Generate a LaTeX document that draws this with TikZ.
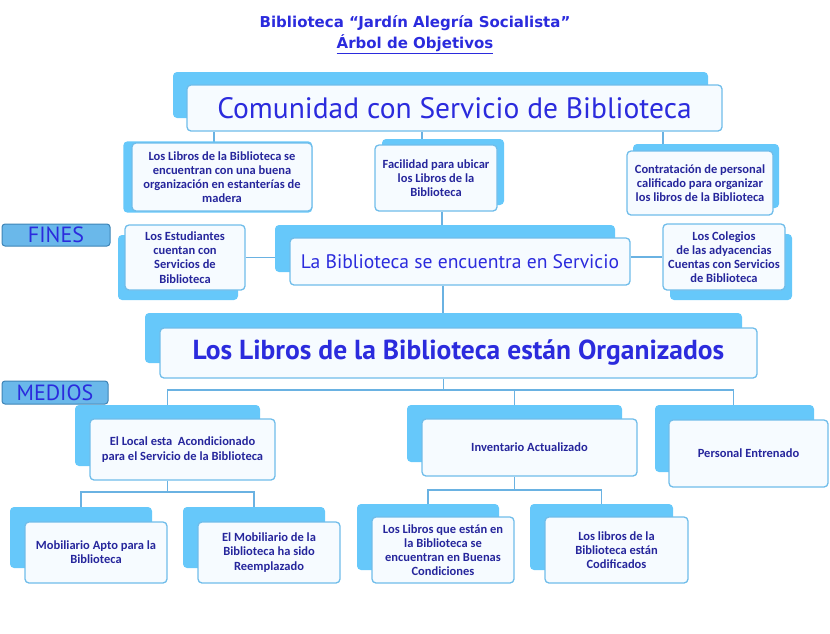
\documentclass[tikz,border=0pt]{standalone}
\usepackage{fontspec}
\setmainfont{Carlito}
\newfontfamily\headfont{PT Sans}
\newfontfamily\titlefont{DejaVu Sans}
\usetikzlibrary{shadows}

\definecolor{skyback}{HTML}{66C8FA}
\definecolor{frontline}{HTML}{70BDEA}
\definecolor{frontfill}{HTML}{F6FBFF}
\definecolor{navytext}{HTML}{26269C}
\definecolor{brighttext}{HTML}{2B2BDD}
\definecolor{linkblue}{HTML}{6AB2E2}
\definecolor{tagfill}{HTML}{6AB8EA}
\definecolor{tagline}{HTML}{3E84B6}

\pgfdeclarelayer{background}
\pgfsetlayers{background,main}

\tikzset{
  goal/.style={draw=frontline, line width=1.3pt, fill=frontfill, rounded corners=4pt,
    align=center, text=navytext, inner sep=2pt, font=\bfseries\fontsize{12.5}{14.2}\selectfont},
  lift/.style 2 args={general shadow={fill=skyback, shadow xshift=#1, shadow yshift=#2}},
  headline/.style={text=brighttext, font=\headfont\fontsize{#1}{#1}\selectfont},
  tag/.style={draw=tagline, line width=1pt, fill=tagfill, rounded corners=3pt,
    text=brighttext, font=\headfont\fontsize{22}{22}\selectfont, inner sep=0pt},
  link/.style={draw=linkblue, line width=1.6pt}
}

\begin{document}
\begin{tikzpicture}[x=1pt, y=-1pt]
  \useasboundingbox (0,0) rectangle (830,633);

  % Draw title
  \node[align=center, text=brighttext, font=\titlefont\bfseries\fontsize{15}{21}\selectfont] (title) at (415,35)
    {Biblioteca “Jardín Alegría Socialista”\\ \underline{Árbol de Objetivos}};

  % Draw ends (fines)
  \node[goal, lift={-14pt}{13pt}, minimum width=535pt, minimum height=46pt, headline=29.5] (top) at (454.5,108)
    {Comunidad con Servicio de Biblioteca};
  \node[goal, general shadow={fill=skyback, shadow scale=1.05, shadow xshift=-4pt, shadow yshift=0pt},
    minimum width=180pt, minimum height=68pt] (l1) at (222,177)
    {Los Libros de la Biblioteca se\\ encuentran con una buena\\ organización en estanterías de\\ madera};
  \node[goal, lift={7pt}{6pt}, minimum width=122pt, minimum height=66pt] (m1) at (436,178)
    {Facilidad para ubicar\\ los Libros de la\\ Biblioteca};
  \node[goal, lift={6pt}{7pt}, minimum width=146pt, minimum height=64pt] (r1) at (700,183)
    {Contratación de personal\\ calificado para organizar\\ los libros de la Biblioteca};

  \node[tag, minimum width=108pt, minimum height=22pt] (fines) at (56,235) {FINES};
  \node[goal, lift={-7pt}{-10pt}, minimum width=120pt, minimum height=65pt] (le) at (185,257.5)
    {Los Estudiantes\\ cuentan con\\ Servicios de\\ Biblioteca};
  \node[goal, lift={-15pt}{13pt}, minimum width=340pt, minimum height=47pt, headline=19.6] (mid) at (460,261.5)
    {La Biblioteca se encuentra\ en Servicio};
  \node[goal, lift={7pt}{-10pt}, minimum width=122pt, minimum height=66pt] (lc) at (724,257)
    {Los Colegios\\ de las adyacencias\\ Cuentas con Servicios\\ de Biblioteca};

  % Draw central problem
  \node[goal, lift={-15pt}{15pt}, minimum width=597pt, minimum height=50pt,
    font=\headfont\bfseries\fontsize{27.5}{27.5}\selectfont, text=brighttext] (big) at (458.5,353)
    {Los Libros de la Biblioteca están Organizados};

  % Draw means (medios)
  \node[tag, minimum width=106pt, minimum height=23pt] (medios) at (55,392.5) {MEDIOS};
  \node[goal, lift={-15pt}{14pt}, minimum width=185pt, minimum height=61pt] (el) at (182.5,449.5)
    {El Local esta\ \ Acondicionado\\ para el Servicio de la Biblioteca};
  \node[goal, lift={-15pt}{14pt}, minimum width=215pt, minimum height=57pt] (inv) at (529.5,447.5)
    {Inventario Actualizado};
  \node[goal, lift={-14pt}{15pt}, minimum width=159pt, minimum height=67pt] (per) at (748.5,453.5)
    {Personal Entrenado};

  \node[goal, lift={-15pt}{15pt}, minimum width=142pt, minimum height=61pt] (ma) at (96,552.5)
    {Mobiliario Apto para la\\ Biblioteca};
  \node[goal, lift={-15pt}{15pt}, minimum width=142pt, minimum height=61pt] (er) at (269,552.5)
    {El Mobiliario de la\\ Biblioteca ha sido\\ Reemplazado};
  \node[goal, lift={-15pt}{13pt}, minimum width=142pt, minimum height=66pt] (lq) at (443,550)
    {Los Libros que están en\\ la Biblioteca se\\ encuentran en Buenas\\ Condiciones};
  \node[goal, lift={-15pt}{13pt}, minimum width=143pt, minimum height=66pt] (lcod) at (616.5,550)
    {Los libros de la\\ Biblioteca están\\ Codificados};

  % Draw connectors behind the boxes
  \coordinate (medbus) at (0,390);
  \coordinate (elbus) at (0,492);
  \coordinate (invbus) at (0,490);
  \begin{pgfonlayer}{background}
    \draw[link] ([xshift=-8pt]l1.north) -- ([xshift=-8pt]l1.north |- top.south);
    \draw[link] ([xshift=-14pt]m1.north) -- ([xshift=-14pt]m1.north |- top.south);
    \draw[link] ([xshift=-37pt]r1.north) -- ([xshift=-37pt]r1.north |- top.south);
    \draw[link] ([xshift=6pt]m1.south) -- ([xshift=6pt]m1.south |- mid.north);
    \draw[link] (le.east) -- (le.east -| mid.west);
    \draw[link] (lc.west) -- (lc.west -| mid.east);
    \draw[link] ([xshift=-17pt]mid.south) -- ([xshift=-17pt]mid.south |- big.north);

    \draw[link] ([xshift=-15pt]big.south) -- ([xshift=-15pt]big.south |- medbus);
    \draw[link] ([xshift=-15pt]el.north) |- ([xshift=-15pt]per.north |- medbus) -- ([xshift=-15pt]per.north);
    \draw[link] ([xshift=-15pt]inv.north) -- ([xshift=-15pt]inv.north |- medbus);

    \draw[link] ([xshift=-15pt]el.south) -- ([xshift=-15pt]el.south |- elbus);
    \draw[link] ([xshift=-15pt]ma.north) |- ([xshift=-15pt]er.north |- elbus) -- ([xshift=-15pt]er.north);
    \draw[link] ([xshift=-15pt]inv.south) -- ([xshift=-15pt]inv.south |- invbus);
    \draw[link] ([xshift=-15pt]lq.north) |- ([xshift=-15pt]lcod.north |- invbus) -- ([xshift=-15pt]lcod.north);
  \end{pgfonlayer}
\end{tikzpicture}
\end{document}
